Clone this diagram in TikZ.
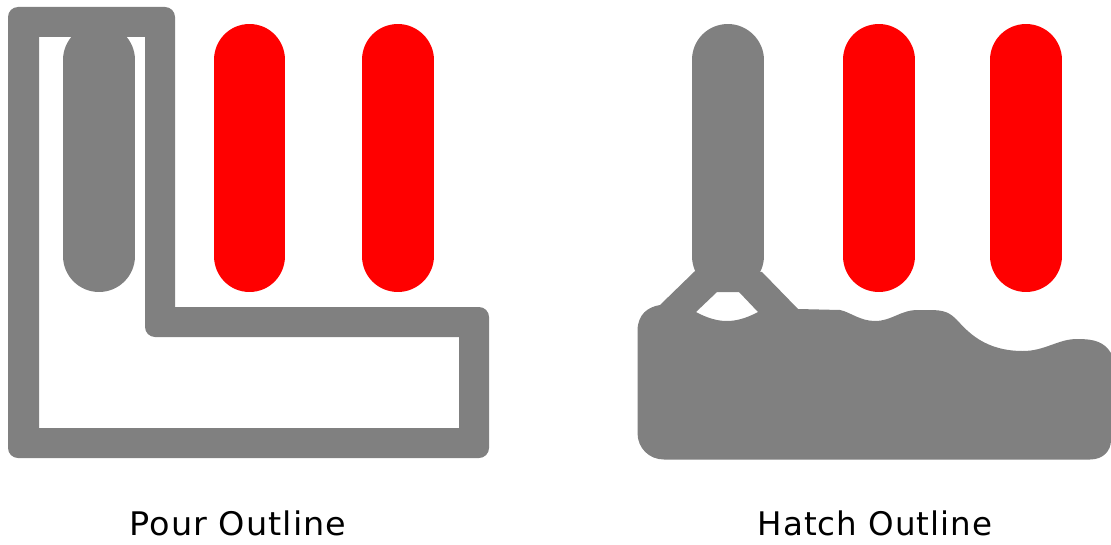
\documentclass[tikz,border=0pt]{standalone}
\usepackage{fontspec}
\setmainfont{DejaVu Sans}
\newfontfamily\capfont[LetterSpace=3]{DejaVu Sans}
\definecolor{copper}{HTML}{808080}
\definecolor{padred}{HTML}{FF0000}
\tikzset{
  x=0.02cm,y=-0.02cm,
  padline/.style={line width=1.44cm,line cap=round},
  graypad/.style={padline,draw=copper},
  redpad/.style={padline,draw=padred},
  caption/.style={font=\capfont\fontsize{18.5}{22}\selectfont,text=black,anchor=base,inner sep=0pt},
  pourfill/.style={fill=copper,draw=none,even odd rule},
}
\begin{document}
\begin{tikzpicture}
\useasboundingbox (0,0) rectangle (1111,544);
% Left: pour outline
\path[pourfill]
  [rounded corners=0.2cm] (8,30) -- (8,7) -- (175,7) [sharp corners] -- (175,307) [rounded corners=0.2cm] -- (489,307) -- (489,458) -- (8,458) -- cycle
  [sharp corners] (39,37) -- (145,37) [rounded corners=0.2cm] -- (145,337) [sharp corners] -- (459,337) -- (459,428) -- (39,428) -- cycle;
\draw[graypad] (99,60) -- (99,256);
\draw[redpad] (249.5,60) -- (249.5,256);
\draw[redpad] (397.5,60) -- (397.5,256);
\node[caption] (pour) at (238,535.5) {\scalebox{1.03}[1]{Pour Outline}};
% Right: hatch outline
\fill[copper,even odd rule]
  (695,271) -- (660,305)
  .. controls (648,307) and (638,314) .. (637.5,330)
  -- (637.5,433)
  .. controls (637.5,448) and (649,459.5) .. (664,459.5)
  -- (1090,459.5)
  .. controls (1103,459.5) and (1111,451) .. (1111,440)
  -- (1111,353)
  .. controls (1104,342) and (1095,339) .. (1077,339)
  .. controls (1058,339) and (1045,351) .. (1023,351)
  .. controls (985,351) and (968,332) .. (957,320)
  .. controls (950,313) and (945,310) .. (930,310)
  -- (918,310)
  .. controls (900,310) and (892,321) .. (875,321)
  .. controls (860,321) and (850,312) .. (840,310)
  -- (798,309) -- (762,272)
  -- cycle
  (717,292) -- (739,292) -- (758,312)
  .. controls (745,319) and (735,321) .. (727,321)
  .. controls (717,321) and (707,318) .. (696,312)
  -- cycle;
\draw[graypad] (727.5,60) -- (727.5,256);
\draw[redpad] (878.5,60) -- (878.5,256);
\draw[redpad] (1026,60) -- (1026,256);
\node[caption] (hatch) at (875,535.5) {Hatch Outline};
\end{tikzpicture}
\end{document}
